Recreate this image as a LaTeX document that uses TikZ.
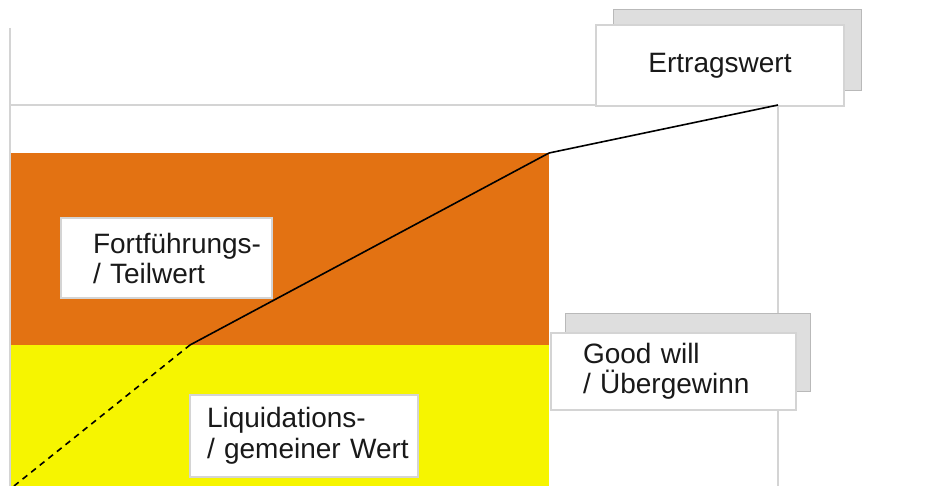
\documentclass[tikz,border=0pt]{standalone}
\usepackage{fontspec}
\setmainfont{Liberation Sans}
\usepackage{xcolor}
\usetikzlibrary{shadows}
\definecolor{orng}{RGB}{227,114,18}
\definecolor{yllw}{RGB}{246,245,0}
\definecolor{grid}{RGB}{212,212,212}
\definecolor{shd}{RGB}{222,222,222}
\definecolor{txt}{RGB}{25,25,25}
\tikzset{box/.style={rectangle,draw=grid,fill=white,line width=1.5pt,align=left,inner sep=0pt,text=txt,font=\fontsize{28}{30}\selectfont},
  shd/.style 2 args={general shadow={fill=shd,draw=gray!55,line width=1pt,shadow xshift=#1,shadow yshift=#2}}}

\begin{document}
\begin{tikzpicture}[x=1pt,y=-1pt]
    \useasboundingbox (0,0) rectangle (929,486);
    \fill[orng] (10,153) rectangle (549,345);
    \fill[yllw] (10,345) rectangle (549,486);
    \draw[grid,line width=1.5pt] (10,28) -- (10,486);
    \draw[grid,line width=1.5pt] (10,105) -- (778,105) -- (778,486);

    \node[box,text width=147pt,inner xsep=32pt,minimum height=80pt] (fw) at (166.5,258) {\mbox{Fortführungs-}\\\mbox{/ Teilwert}};
    \node[box,text width=194pt,inner xsep=17pt,minimum height=82pt,font=\fontsize{28}{31}\selectfont] (lw) at (304,436) {\mbox{Liquidations-}\\\mbox{/ gemeiner Wert}};
    \node[box,shd={14pt}{19pt},text width=181pt,inner xsep=32pt,minimum height=77pt] (gw) at (673.5,371.5) {\mbox{Good will}\\\mbox{/ Übergewinn}};
    \node[box,shd={17pt}{15pt},minimum width=248pt,minimum height=81pt] (ew) at (720,65.5) {Ertragswert};

    \coordinate (o) at (14,486);
    \coordinate (l) at (190,345);
    \coordinate (f) at (549,153);
    \coordinate (e) at (778,105);

    \draw [line width=1.6pt,dash pattern=on 6pt off 5pt] (o) to [] (l);
    \draw [line width=1.6pt] (l) to [] (f);
    \draw [line width=1.6pt] (f) to [] (e);
\end{tikzpicture}
\end{document}
